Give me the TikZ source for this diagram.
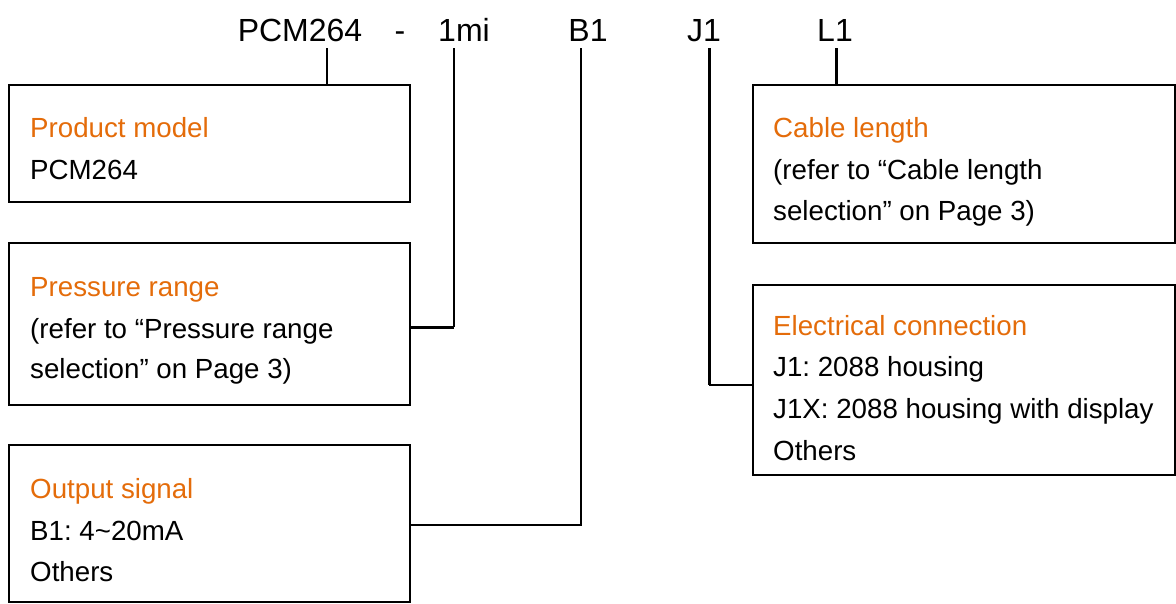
\documentclass[tikz,border=0pt]{standalone}
\usepackage{fontspec}
\setmainfont{Liberation Sans}
\frenchspacing
\definecolor{hdr}{RGB}{228,108,10}
\begin{document}
\begin{tikzpicture}[x=1pt,y=-1pt,
  box/.style={draw=black,line width=1.5pt,anchor=north west,inner sep=0pt},
  txt/.style={anchor=base west,inner sep=0pt,font=\fontsize{27.7}{30}\selectfont},
  ttl/.style={txt,text=hdr},
  code/.style={anchor=base,inner sep=0pt,font=\fontsize{32}{36}\selectfont},
  conn/.style={line width=1.5pt},
  thick conn/.style={line width=3pt}]
\useasboundingbox (0,0) rectangle (1176,603);
% header codes
\node[code] (pcm) at (300,41) {PCM264};
\node[code] (dash) at (400,41) {-};
\node[code] (rng) at (464,41) {1mi};
\node[code] (sig) at (588,41) {B1};
\node[code] (ele) at (704,41) {J1};
\node[code] (cab) at (835,41) {L1};
% boxes
\node[box,minimum width=401pt,minimum height=117pt] (pm) at (8,84) {};
\node[box,minimum width=401pt,minimum height=162pt] (pr) at (8,242) {};
\node[box,minimum width=401pt,minimum height=157pt] (os) at (8,444) {};
\node[box,minimum width=422pt,minimum height=158pt] (cl) at (752,84) {};
\node[box,minimum width=422pt,minimum height=190pt] (ec) at (752,284) {};
% texts
\node[ttl] (pmt) at (30,137) {Product model};
\node[txt] (pm1) at (30,179) {PCM264};
\node[ttl] (prt) at (30,296) {Pressure range};
\node[txt] (pr1) at (30,338) {(refer to “Pressure range};
\node[txt] (pr2) at (30,378) {selection” on Page 3)};
\node[ttl] (ost) at (30,498) {Output signal};
\node[txt] (os1) at (30,540) {B1: 4\textasciitilde 20mA};
\node[txt] (os2) at (30,581) {Others};
\node[ttl] (clt) at (773,137) {Cable length};
\node[txt] (cl1) at (773,179) {(refer to “Cable length};
\node[txt] (cl2) at (773,220) {selection” on Page 3)};
\node[ttl] (ect) at (773,335) {Electrical connection};
\node[txt] (ec1) at (773,376) {J1: 2088 housing};
\node[txt] (ec2) at (773,418) {J1X: 2088 housing with display};
\node[txt] (ec3) at (773,460) {Others};
% connector start points
\coordinate (cpcm) at (327,48);
\coordinate (crng) at (454,48);
\coordinate (csig) at (581,48);
\coordinate (cele) at (709,48);
\coordinate (ccab) at (836,48);
% connectors
\draw[conn] (cpcm) -- (cpcm |- pm.north);
\draw[conn] (crng) -- (454,327);
\draw[thick conn] (454,327) -- (pr.east |- 0,327);
\draw[conn] (csig) -- (581,525) -- (os.east |- 0,525);
\draw[thick conn] (cele) -- (709,385);
\draw[conn] (709,385) -- (ec.west |- 0,385);
\draw[thick conn] (ccab) -- (ccab |- cl.north);
\end{tikzpicture}
\end{document}
